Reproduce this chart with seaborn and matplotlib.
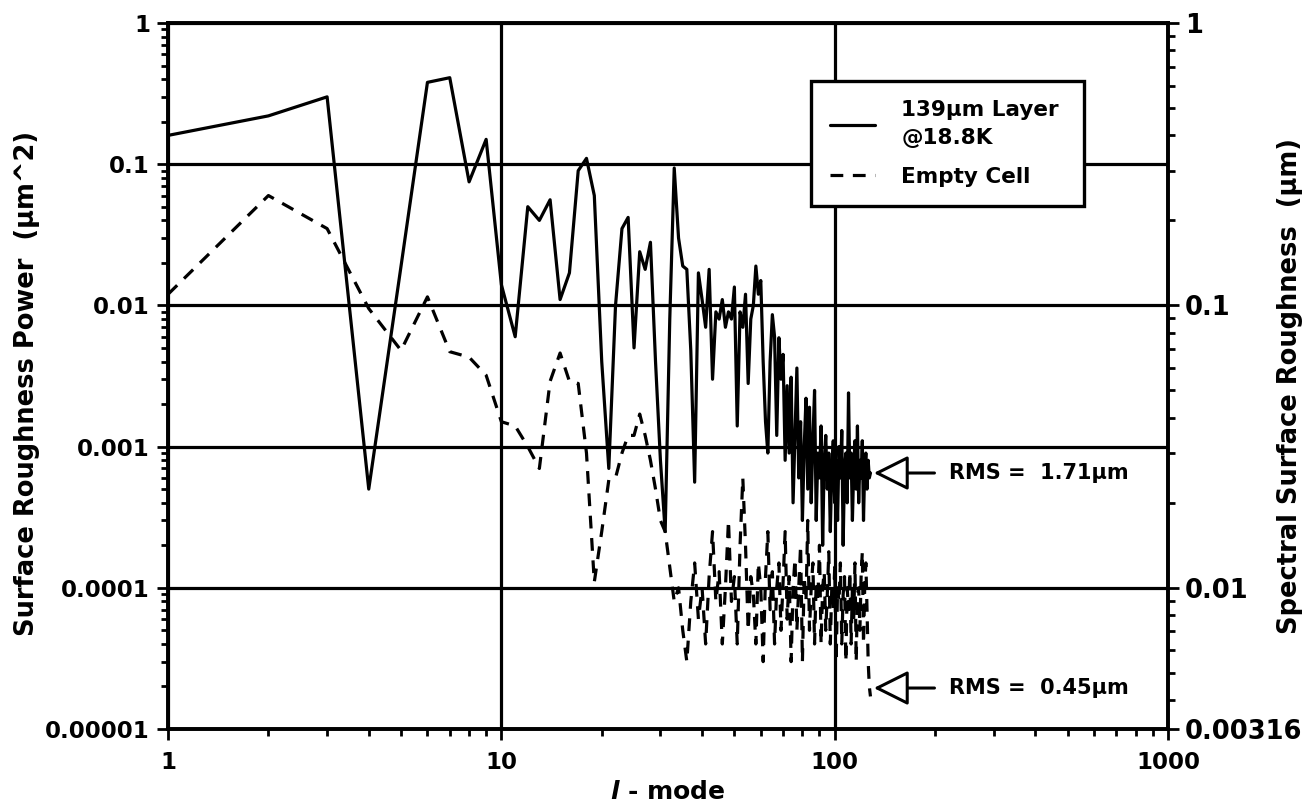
import numpy as np
import matplotlib
matplotlib.use("Agg")
import matplotlib.pyplot as plt
from matplotlib.ticker import FixedLocator, LogLocator, NullFormatter
import seaborn as sns

# l-mode spectrum
L_MODE = list(range(1, 129))

LAYER_139UM = [
    0.16, 0.22, 0.30, 0.0005, 0.019, 0.38, 0.41, 0.075, 0.15, 0.014,
    0.006, 0.05, 0.04, 0.056, 0.011, 0.017, 0.09, 0.11, 0.06, 0.004,
    0.0007, 0.01, 0.035, 0.042, 0.005, 0.024, 0.018, 0.028, 0.004, 0.0008,
    0.00025, 0.008, 0.094, 0.03, 0.019, 0.018, 0.0048, 0.00056, 0.017, 0.011,
    0.007, 0.018, 0.003, 0.009, 0.008, 0.011, 0.007, 0.009, 0.008, 0.0135,
    0.0014, 0.009, 0.007, 0.012, 0.0028, 0.008, 0.01, 0.019, 0.012, 0.015,
    0.004, 0.0015, 0.0009, 0.004, 0.0086, 0.006, 0.0012, 0.0059, 0.003, 0.0045,
    0.0008, 0.0027, 0.0009, 0.0031, 0.0004, 0.0012, 0.0036, 0.0006, 0.0015, 0.0003,
    0.001, 0.0022, 0.0005, 0.0019, 0.0004, 0.0011, 0.0025, 0.0003, 0.0009, 0.0006,
    0.0014, 0.0002, 0.0008, 0.0012, 0.0005, 0.0009, 0.00025, 0.0007, 0.0011, 0.0004,
    0.0008, 0.0003, 0.001, 0.0006, 0.0013, 0.0002, 0.0007, 0.0009, 0.0004, 0.0024,
    0.0006, 0.0009, 0.0003, 0.0007, 0.0011, 0.0005, 0.0014, 0.0004, 0.0008, 0.0006,
    0.0011, 0.0003, 0.0007, 0.0009, 0.0005, 0.0008, 0.0006, 0.00065,
]

EMPTY_CELL = [
    0.012, 0.06, 0.035, 0.0095, 0.0048, 0.0115, 0.0047, 0.0043, 0.0032, 0.0015,
    0.0014, 0.001, 0.0007, 0.0029, 0.0046, 0.0029, 0.0028, 0.0009, 0.00011, 0.00025,
    0.00058, 0.0006, 0.0009, 0.0012, 0.0012, 0.0017, 0.0012, 0.0008, 0.0005, 0.0003,
    0.00025, 0.00014, 0.00008, 0.0001, 0.00005, 0.00003, 0.00008, 0.00015, 0.00006, 0.0001,
    0.00004, 0.00012, 0.00025, 0.00008, 0.00013, 0.00004, 0.0001, 0.0003, 0.00008, 0.00012,
    0.00004, 0.0002, 0.0006, 0.0002, 0.00005, 0.00012, 0.00009, 0.00004, 0.00015, 0.0001,
    0.00003, 0.00012, 0.00025, 0.00007, 0.00013, 0.00004, 0.0001, 0.00015, 0.00005, 0.00011,
    0.00025, 0.00006, 0.00012, 0.00003, 0.0001, 0.00016, 0.00005, 0.0001, 0.0002, 0.00003,
    0.00012, 0.00008, 0.0003, 0.00005, 0.0001, 0.00015, 0.00004, 0.00011, 0.00008, 0.0002,
    0.00004, 0.0001, 0.00013, 0.00005, 0.00009, 0.00018, 0.00004, 0.0001, 0.00007, 0.00014,
    0.00003, 0.0001, 0.00008, 0.00015, 0.00004, 0.00009, 0.00012, 0.00003, 0.0001, 0.00007,
    0.00013, 0.00004, 0.0001, 0.00006, 0.00015, 0.00003, 0.00009, 0.0001, 0.00005, 0.00012,
    0.00018, 0.00004, 0.0001, 0.00015, 0.00007, 0.00003, 0.00002, 0.000017,
]

X_TICKS = [1, 10, 100, 1000]
X_TICK_LABELS = ["1", "10", "100", "1000"]
Y_TICKS = [1e-5, 1e-4, 1e-3, 1e-2, 1e-1, 1]
Y_TICK_LABELS = ["0.00001", "0.0001", "0.001", "0.01", "0.1", "1"]
RIGHT_TICKS = [0.00316, 0.01, 0.1, 1]
RIGHT_TICK_LABELS = ["0.00316", "0.01", "0.1", "1"]

RMS_LAYER = 6.5e-4
RMS_EMPTY = 1.95e-5

sns.set_style("ticks")
plt.rcParams["font.family"] = ["DejaVu Sans"]
plt.rcParams["font.weight"] = "bold"
plt.rcParams["text.color"] = "black"
plt.rcParams["axes.labelcolor"] = "black"
plt.rcParams["mathtext.fontset"] = "custom"
plt.rcParams["mathtext.it"] = "DejaVu Sans:italic:bold"

LW = 2.3

fig = plt.figure(figsize=(13.13, 8.08), dpi=100)
ax = fig.add_axes([0.128, 0.0978, 0.7616, 0.8737])

sns.lineplot(x=L_MODE, y=LAYER_139UM, ax=ax, color="black", lw=LW,
             label="139µm Layer\n@18.8K")
sns.lineplot(x=L_MODE, y=EMPTY_CELL, ax=ax, color="black", lw=LW,
             linestyle=(0, (4, 3)), label="Empty Cell")

ax.set_xscale("log")
ax.set_yscale("log")
ax.set_xlim(1, 1000)
ax.set_ylim(1e-5, 1)

ax.xaxis.set_major_locator(FixedLocator(X_TICKS))
ax.set_xticklabels(X_TICK_LABELS)
ax.xaxis.set_minor_locator(LogLocator(base=10, subs=np.arange(2, 10)))
ax.xaxis.set_minor_formatter(NullFormatter())
ax.yaxis.set_major_locator(FixedLocator(Y_TICKS))
ax.set_yticklabels(Y_TICK_LABELS)
ax.yaxis.set_minor_locator(LogLocator(base=10, subs=np.arange(2, 10)))
ax.yaxis.set_minor_formatter(NullFormatter())

ax.grid(which="major", color="black", lw=LW)
for s in ax.spines.values():
    s.set_linewidth(2.6)
    s.set_color("black")
ax.tick_params(which="major", length=8, width=2, colors="black")
ax.tick_params(which="minor", length=5, width=2, colors="black")
ax.tick_params(axis="y", labelsize=16.5, pad=5)
ax.tick_params(axis="x", labelsize=16.5, pad=8)

ax.set_xlabel("$\\it{l}$ - mode", fontsize=18, fontweight="bold")
ax.xaxis.set_label_coords(0.5, -0.072)
ax.set_ylabel("Surface Roughness Power  (µm^2)", fontsize=18.5, fontweight="bold")
ax.yaxis.set_label_coords(-0.128, 0.49)

# right axis: sqrt of the power, same decades squashed by half
ax2 = ax.twinx()
ax2.set_yscale("log")
ax2.set_ylim(RIGHT_TICKS[0], RIGHT_TICKS[-1])
ax2.yaxis.set_major_locator(FixedLocator(RIGHT_TICKS))
ax2.set_yticklabels(RIGHT_TICK_LABELS)
ax2.yaxis.set_minor_locator(LogLocator(base=10, subs=np.arange(2, 10)))
ax2.yaxis.set_minor_formatter(NullFormatter())
ax2.tick_params(which="major", length=8, width=2, labelsize=18.5, pad=4, colors="black")
ax2.tick_params(which="minor", length=5, width=2, colors="black")
for s in ax2.spines.values():
    s.set_linewidth(2.6)
    s.set_color("black")
ax2.set_ylabel("Spectral Surface Roughness  (µm)", fontsize=18.5, fontweight="bold")
ax2.yaxis.set_label_coords(1.109, 0.486)

handles, labels = ax.get_legend_handles_labels()
leg = ax.legend(handles, labels, loc="upper left",
                bbox_to_anchor=(0.632, 0.735, 0.295, 0.198), mode="expand",
                frameon=True, fancybox=False, framealpha=1, edgecolor="black",
                borderpad=0.9, handlelength=2.1, handletextpad=1.2,
                labelspacing=0.85, prop={"weight": "bold", "size": 15.5})
leg.get_frame().set_linewidth(2.4)
leg.get_texts()[0].set_linespacing(1.5)
for t in leg.get_texts():
    t.set_color("black")
leg.set_zorder(10)

arrow = dict(arrowstyle="-|>,head_length=0.9,head_width=0.45", fc="white",
             ec="black", lw=2.2, mutation_scale=24, shrinkA=8, shrinkB=0)
ax.annotate("RMS =  1.71µm", xy=(131, RMS_LAYER), xytext=(220, RMS_LAYER),
            fontsize=15, fontweight="bold", va="center", ha="left",
            color="black", arrowprops=arrow)
ax.annotate("RMS =  0.45µm", xy=(131, RMS_EMPTY), xytext=(220, RMS_EMPTY),
            fontsize=15, fontweight="bold", va="center", ha="left",
            color="black", arrowprops=arrow)

fig.savefig("out.png", dpi=100)
